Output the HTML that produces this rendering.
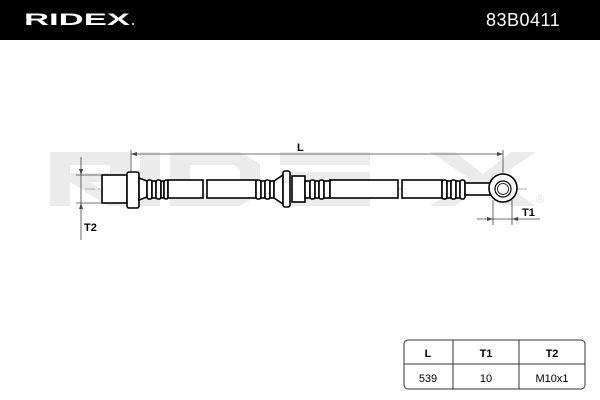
<!DOCTYPE html><html><head><style>body{margin:0}svg{display:block}</style></head><body>
<svg width="600" height="400" viewBox="0 0 600 400" xmlns="http://www.w3.org/2000/svg" font-family="Liberation Sans, sans-serif">
<rect width="600" height="400" fill="#fff"/>
<rect width="600" height="40" fill="#000"/>
<text x="24" y="25" fill="#fff" font-size="17" font-weight="bold" textLength="106" lengthAdjust="spacingAndGlyphs">RIDEX</text>
<circle cx="133" cy="24" r="1" fill="#fff"/>
<text x="486" y="26" fill="#fff" font-size="18" letter-spacing="0.5">83B0411</text>
<!-- watermark -->
<g fill="#ebebeb">
<path d="M50 152h80v30h-40l40 24h-22l-38-24v24h-20z M70 165v8h40v-8z"/>
<rect x="140" y="152" width="20" height="54"/>
<path d="M170 152h70l20 12v30l-20 12h-70z M190 165v28h45l5-5v-18l-5-5z"/>
<rect x="280" y="152" width="90" height="13"/><rect x="280" y="172" width="90" height="13"/><rect x="280" y="193" width="90" height="13"/>
<path d="M380 152h25l28 22 28-22h25l-40 27 40 27h-25l-28-22-28 22h-25l40-27z" transform="translate(50 0)"/>
</g>
<text x="536" y="203" font-size="11" fill="#ddd">®</text>
<g stroke="#000" fill="#fff" stroke-width="1.6">
<line x1="85" y1="189" x2="530" y2="189" stroke="#999" stroke-width="0.8" stroke-dasharray="10 3 2 3"/>
<rect x="102" y="175" width="25" height="28"/>
<rect x="127" y="172" width="12" height="36" rx="2"/>
<path d="M139 178l8 3v16l-8 3z"/>
<rect x="147" y="180" width="5" height="19" rx="2"/><rect x="152" y="181" width="4" height="17"/><rect x="156" y="180" width="5" height="19" rx="2"/><rect x="161" y="181" width="3" height="17"/><rect x="164" y="180" width="4" height="19" rx="2"/>
<rect x="168" y="180" width="35" height="18"/><rect x="207" y="180" width="49" height="18"/>
<rect x="256" y="180" width="5" height="19" rx="2"/><rect x="261" y="181" width="4" height="17"/><rect x="265" y="180" width="5" height="19" rx="2"/><rect x="270" y="181" width="4" height="17"/>
<path d="M274 181l9-6v29l-9-6z"/>
<rect x="283" y="171" width="7" height="36" rx="2"/>
<rect x="292" y="176" width="13" height="26"/>
<rect x="305" y="181" width="5" height="17"/><rect x="310" y="180" width="5" height="19" rx="2"/><rect x="315" y="181" width="4" height="17"/><rect x="319" y="180" width="5" height="19" rx="2"/><rect x="324" y="181" width="6" height="17"/>
<rect x="330" y="180" width="68" height="18"/><rect x="402" y="180" width="40" height="18"/>
<rect x="442" y="180" width="5" height="19" rx="2"/><rect x="447" y="181" width="4" height="17"/><rect x="451" y="180" width="5" height="19" rx="2"/><rect x="456" y="181" width="4" height="17"/><rect x="460" y="180" width="5" height="19" rx="2"/>
<rect x="465" y="183" width="25" height="12"/>
<circle cx="503" cy="188" r="14"/>
<circle cx="503" cy="189" r="8" stroke-width="1.2"/><circle cx="503" cy="189" r="5.5" stroke-width="0.8"/>
</g>
<g stroke="#444" stroke-width="0.8" fill="none">
<line x1="131" y1="154" x2="503" y2="154"/><line x1="131" y1="150" x2="131" y2="172"/><line x1="503" y1="150" x2="503" y2="174"/>
<line x1="81" y1="157" x2="81" y2="240"/><line x1="76" y1="175" x2="102" y2="175"/><line x1="76" y1="203" x2="102" y2="203"/>
<line x1="477" y1="219" x2="540" y2="219"/><line x1="493" y1="200" x2="493" y2="225"/><line x1="512" y1="200" x2="512" y2="225"/>
</g>
<g fill="#444"><path d="M131 154l6-2v4z M503 154l-6-2v4z M81 175l-2-6h4z M81 203l-2 6h4z M493 219l-6-2v4z M512 219l6-2v4z"/></g>
<text x="297" y="151" font-size="11" font-weight="bold">L</text>
<text x="84" y="231" font-size="11" font-weight="bold">T2</text>
<text x="522" y="216" font-size="11" font-weight="bold">T1</text>
<!-- table -->
<rect x="404" y="340" width="181" height="49" rx="4" fill="none" stroke="#333" stroke-width="1"/>
<g stroke="#333" stroke-width="1"><line x1="404" y1="364" x2="585" y2="364"/><line x1="453" y1="340" x2="453" y2="389"/><line x1="519" y1="340" x2="519" y2="389"/></g>
<g font-size="11" text-anchor="middle"><text x="428" y="357" font-weight="bold">L</text><text x="486" y="357" font-weight="bold">T1</text><text x="552" y="357" font-weight="bold">T2</text>
<text x="428" y="382">539</text><text x="486" y="382">10</text><text x="552" y="382">M10x1</text></g>
</svg></body></html>
